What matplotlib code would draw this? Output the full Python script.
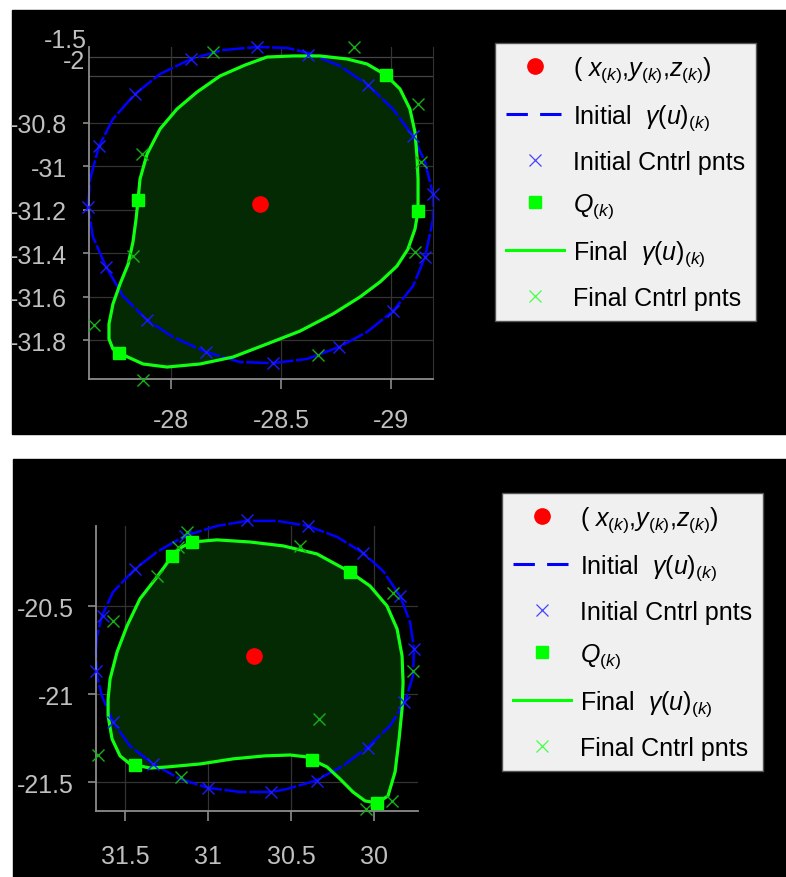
import matplotlib
matplotlib.use('Agg')
import matplotlib.pyplot as plt
from matplotlib.lines import Line2D
from matplotlib.patches import Rectangle

plt.rcParams['font.family'] = ['Liberation Sans', 'DejaVu Sans']
plt.rcParams['mathtext.fontset'] = 'custom'
plt.rcParams['mathtext.rm'] = 'Liberation Sans'
plt.rcParams['mathtext.it'] = 'Liberation Sans:italic'
plt.rcParams['axes.unicode_minus'] = False

# ---------------- top view ----------------
top_center = (-28.405, -31.175)

top_init_x = [-27.623, -27.632, -27.673, -27.736, -27.836, -27.950, -28.091, -28.236,
              -28.391, -28.527, -28.623, -28.768, -28.895, -29.009, -29.100, -29.155,
              -29.191, -29.191, -29.155, -29.100, -29.009, -28.891, -28.764, -28.618,
              -28.464, -28.314, -28.159, -28.009, -27.891, -27.782, -27.705, -27.645]
top_init_y = [-31.189, -31.060, -30.908, -30.784, -30.669, -30.577, -30.508, -30.467,
              -30.453, -30.457, -30.480, -30.540, -30.628, -30.738, -30.862, -30.982,
              -31.129, -31.244, -31.418, -31.552, -31.667, -31.763, -31.832, -31.887,
              -31.906, -31.901, -31.855, -31.786, -31.708, -31.598, -31.464, -31.326]

top_init_cx = [-28.391, -28.091, -27.836, -27.673, -27.623, -27.705, -27.891, -28.159,
               -28.464, -28.764, -29.009, -29.155, -29.191, -29.100, -28.895, -28.623]
top_init_cy = [-30.453, -30.508, -30.669, -30.908, -31.189, -31.464, -31.708, -31.855,
               -31.906, -31.832, -31.667, -31.418, -31.129, -30.862, -30.628, -30.490]

top_fin_x = [-27.850, -27.859, -27.891, -27.950, -28.027, -28.118, -28.223, -28.336,
             -28.436, -28.555, -28.677, -28.800, -28.891, -28.977, -29.041, -29.086,
             -29.109, -29.118, -29.123, -29.123, -29.109, -29.077, -29.027, -28.950,
             -28.859, -28.736, -28.586, -28.436, -28.282, -28.132, -27.982, -27.873,
             -27.764, -27.736, -27.718, -27.718, -27.736, -27.768, -27.805, -27.827,
             -27.841]
top_fin_y = [-31.156, -31.060, -30.945, -30.830, -30.738, -30.660, -30.586, -30.536,
             -30.499, -30.494, -30.494, -30.508, -30.531, -30.582, -30.646, -30.738,
             -30.844, -30.954, -31.060, -31.207, -31.290, -31.382, -31.460, -31.533,
             -31.602, -31.680, -31.759, -31.818, -31.878, -31.910, -31.924, -31.910,
             -31.860, -31.841, -31.795, -31.726, -31.634, -31.543, -31.451, -31.349,
             -31.244]

top_fin_cx = [-28.191, -28.832, -29.123, -29.136, -29.109, -28.668, -27.873, -27.650,
              -27.827, -27.868]
top_fin_cy = [-30.476, -30.453, -30.715, -30.982, -31.395, -31.869, -31.984, -31.731,
              -31.414, -30.945]

top_q_x = [-28.977, -29.123, -27.764, -27.850]
top_q_y = [-30.582, -31.207, -31.860, -31.156]

top_xticks = [-28, -28.5, -29]
top_xlabels = ['-28', '-28.5', '-29']
top_yticks = [-30.8, -31, -31.2, -31.4, -31.6, -31.8]
top_ylabels = ['-30.8', '-31', '-31.2', '-31.4', '-31.6', '-31.8']
top_box_y = [-30.5, -30.586]   # projected 3D box edges
top_z_labels = ['-1.5', '-2']

# ---------------- bottom view ----------------
bot_center = (30.723, -20.781)

bot_init_x = [31.675, 31.669, 31.639, 31.572, 31.440, 31.307, 31.139, 30.946, 30.765,
              30.584, 30.398, 30.223, 30.066, 29.946, 29.843, 29.783, 29.759, 29.765,
              29.813, 29.904, 30.036, 30.187, 30.355, 30.524, 30.614, 30.807, 31.000,
              31.169, 31.331, 31.470, 31.572, 31.639, 31.669]
bot_init_y = [-20.759, -20.668, -20.554, -20.418, -20.287, -20.190, -20.099, -20.043,
              -20.014, -20.014, -20.043, -20.105, -20.196, -20.298, -20.440, -20.588,
              -20.741, -20.895, -21.043, -21.179, -21.298, -21.406, -21.491, -21.537,
              -21.554, -21.554, -21.531, -21.480, -21.395, -21.293, -21.156, -21.009,
              -20.895]

bot_init_cx = [30.765, 30.398, 30.066, 29.843, 29.759, 29.819, 30.036, 30.343, 30.620,
               31.000, 31.331, 31.572, 31.675, 31.633, 31.440, 31.139]
bot_init_cy = [-20.009, -20.043, -20.196, -20.440, -20.741, -21.043, -21.304, -21.491,
               -21.554, -21.531, -21.395, -21.156, -20.866, -20.554, -20.287, -20.099]

bot_fin_x = [31.096, 30.946, 30.747, 30.548, 30.343, 30.145, 30.024, 29.922, 29.861,
             29.831, 29.825, 29.831, 29.849, 29.873, 29.916, 29.982, 30.054, 30.127,
             30.205, 30.283, 30.373, 30.404, 30.506, 30.657, 30.849, 31.048, 31.247,
             31.349, 31.440, 31.470, 31.530, 31.578, 31.602, 31.602, 31.590, 31.548,
             31.488, 31.410, 31.307, 31.259, 31.217, 31.157]
bot_fin_y = [-20.134, -20.122, -20.134, -20.156, -20.202, -20.304, -20.384, -20.497,
             -20.628, -20.781, -20.929, -21.082, -21.253, -21.440, -21.577, -21.616,
             -21.605, -21.554, -21.480, -21.412, -21.372, -21.355, -21.344, -21.349,
             -21.366, -21.395, -21.412, -21.418, -21.401, -21.395, -21.349, -21.253,
             -21.122, -21.026, -20.912, -20.759, -20.611, -20.457, -20.332, -20.270,
             -20.213, -20.162]

bot_fin_cx = [31.127, 31.181, 30.446, 29.886, 29.765, 30.331, 29.892, 30.048, 31.163,
              31.663, 31.572, 31.307]
bot_fin_cy = [-20.077, -20.162, -20.156, -20.423, -20.866, -21.139, -21.605, -21.651,
              -21.469, -21.344, -20.582, -20.327]

bot_q_x = [31.096, 31.217, 30.145, 30.373, 29.982, 31.440]
bot_q_y = [-20.134, -20.213, -20.304, -21.372, -21.616, -21.401]

bot_xticks = [31.5, 31, 30.5, 30]
bot_xlabels = ['31.5', '31', '30.5', '30']
bot_yticks = [-20.5, -21, -21.5]
bot_ylabels = ['-20.5', '-21', '-21.5']

legend_labels = [r'( $x_{(k)}$,$y_{(k)}$,$z_{(k)}$)',
                 r'Initial  $\gamma(u)_{(k)}$',
                 'Initial Cntrl pnts',
                 r'$Q_{(k)}$',
                 r'Final  $\gamma(u)_{(k)}$',
                 'Final Cntrl pnts']

AX_GRAY = '#8c8c8c'
GRID_GRAY = '#333333'
TXT_GRAY = '#c0c0c0'


def draw_panel(ax, init_x, init_y, init_cx, init_cy, fin_x, fin_y, fin_cx, fin_cy,
               q_x, q_y, center):
    ax.fill(fin_x, fin_y, color='#032a03', zorder=1, clip_on=False)
    ax.plot(init_x + init_x[:1], init_y + init_y[:1], color='#0000ff', lw=1.8,
            dashes=(9, 1), zorder=2, clip_on=False)
    ax.plot(fin_x + fin_x[:1], fin_y + fin_y[:1], color='#11ff11', lw=2.3,
            zorder=3, clip_on=False)
    ax.plot(init_cx, init_cy, 'x', color='#1a1aff', ms=8, mew=1, zorder=4, clip_on=False)
    ax.plot(fin_cx, fin_cy, 'x', color='#16b016', ms=8, mew=1, zorder=4, clip_on=False)
    ax.plot(q_x, q_y, 's', color='#00ff00', ms=8.5, zorder=5, clip_on=False)
    ax.plot([center[0]], [center[1]], 'o', color='#ff0000', ms=11, zorder=6, clip_on=False)


def style_axes(ax, xticks, xlabels, yticks, ylabels, xpad, ypad, ylen):
    ax.set_facecolor('none')
    ax.set_xticks(xticks)
    ax.set_xticklabels(xlabels)
    ax.set_yticks(yticks)
    ax.set_yticklabels(ylabels)
    ax.grid(True, color=GRID_GRAY, lw=0.9)
    ax.set_axisbelow(True)
    for s in ['top', 'right']:
        ax.spines[s].set_visible(False)
    for s in ['left', 'bottom']:
        ax.spines[s].set_color(AX_GRAY)
        ax.spines[s].set_linewidth(1.3)
    ax.tick_params(axis='x', length=7, width=1.2, color=AX_GRAY, labelcolor=TXT_GRAY,
                   labelsize=18, pad=xpad)
    ax.tick_params(axis='y', length=ylen, width=1.2, color=AX_GRAY, labelcolor=TXT_GRAY,
                   labelsize=18, pad=ypad)


def add_legend(ax, anchor):
    handles = [
        Line2D([], [], ls='none', marker='o', color='#ff0000', ms=11),
        Line2D([], [], color='#0000ff', lw=2.2, dashes=(7, 4)),
        Line2D([], [], ls='none', marker='x', color='#4444ff', ms=9, mew=0.9),
        Line2D([], [], ls='none', marker='s', color='#00ff00', ms=8.5),
        Line2D([], [], color='#00ff00', lw=2.2),
        Line2D([], [], ls='none', marker='x', color='#44ff44', ms=9, mew=0.9),
    ]
    leg = ax.legend(handles, legend_labels, loc='upper left', bbox_to_anchor=anchor,
                    bbox_transform=ax.figure.transFigure, borderaxespad=0,
                    fontsize=18, handlelength=2.3, handletextpad=0.35, borderpad=0.45,
                    labelspacing=0.72, fancybox=False, framealpha=1,
                    facecolor='#f0f0f0', edgecolor='#555555')
    leg.get_frame().set_linewidth(1)
    return leg


fig = plt.figure(figsize=(7.86, 8.78), dpi=100, facecolor='white')
fig.patches.append(Rectangle((0.0153, 0.5046), 0.9847, 0.4829, transform=fig.transFigure,
                             color='black', zorder=-1))
fig.patches.append(Rectangle((0.0165, 0.0), 0.9835, 0.4761, transform=fig.transFigure,
                             color='black', zorder=-1))

# top panel
ax1 = fig.add_axes([0.1132, 0.5672, 0.4377, 0.3781])
draw_panel(ax1, top_init_x, top_init_y, top_init_cx, top_init_cy, top_fin_x, top_fin_y,
           top_fin_cx, top_fin_cy, top_q_x, top_q_y, top_center)
ax1.set_xlim(-27.627, -29.191)
ax1.set_ylim(-31.979, -30.453)
style_axes(ax1, top_xticks, top_xlabels, top_yticks, top_ylabels, 14, 12, 4)
ax1.spines['right'].set_visible(True)
ax1.spines['right'].set_color(GRID_GRAY)
for yb in top_box_y:
    ax1.axhline(yb, color='#444444', lw=0.9, zorder=0)
fig.text(0.1107, 0.953, top_z_labels[0], ha='right', va='center', fontsize=18, color=TXT_GRAY)
fig.text(0.1081, 0.9294, top_z_labels[1], ha='right', va='center', fontsize=18, color=TXT_GRAY)
add_legend(ax1, (0.6298, 0.9499))

# bottom panel
ax2 = fig.add_axes([0.1221, 0.0752, 0.4097, 0.3246])
draw_panel(ax2, bot_init_x, bot_init_y, bot_init_cx, bot_init_cy, bot_fin_x, bot_fin_y,
           bot_fin_cx, bot_fin_cy, bot_q_x, bot_q_y, bot_center)
ax2.set_xlim(31.675, 29.735)
ax2.set_ylim(-21.662, -20.043)
style_axes(ax2, bot_xticks, bot_xlabels, bot_yticks, bot_ylabels, 17, 10, 6)
add_legend(ax2, (0.6387, 0.4374))

fig.savefig('out.png', dpi=100, facecolor='white')
